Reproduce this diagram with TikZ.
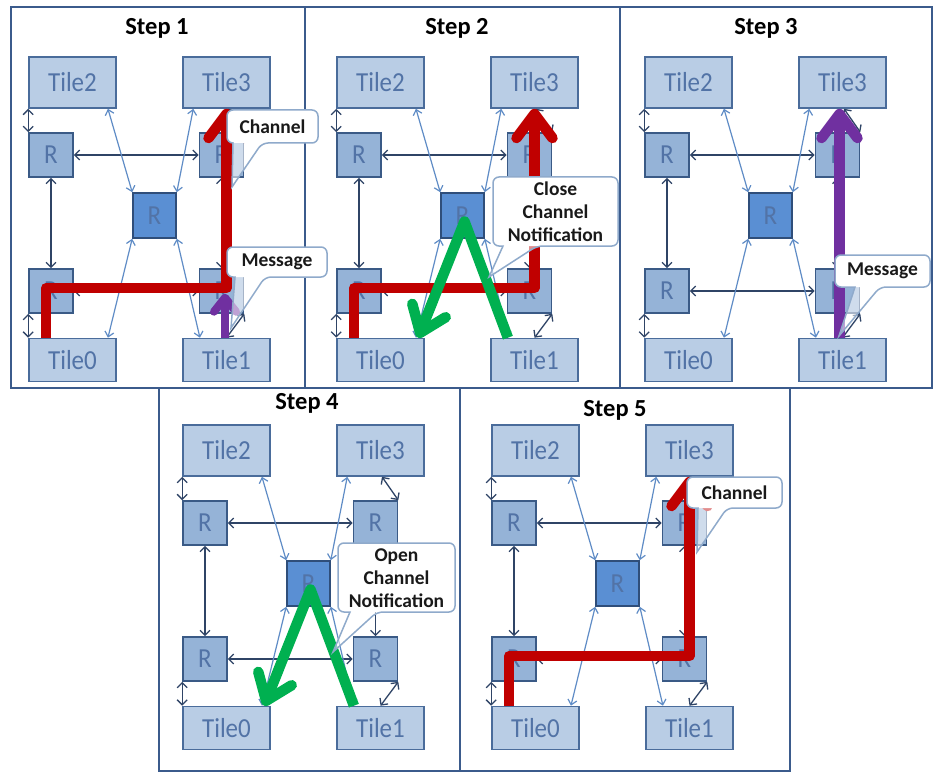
\documentclass[tikz,border=0pt]{standalone}
\usepackage{fontspec}
\setmainfont{Carlito}
\usepackage{graphicx}
\usetikzlibrary{arrows.meta,calc}
\definecolor{tilefill}{HTML}{B9CDE5}
\definecolor{tileedge}{HTML}{4A6C9B}
\definecolor{rfill}{HTML}{95B3D7}
\definecolor{redge}{HTML}{3A5A86}
\definecolor{rcfill}{HTML}{5A8FD3}
\definecolor{rcedge}{HTML}{2F4E7A}
\definecolor{labtxt}{HTML}{5273A6}
\definecolor{framec}{HTML}{3B5B8C}
\definecolor{darkcon}{HTML}{2F4466}
\definecolor{lightcon}{HTML}{5F8CC6}
\definecolor{chred}{HTML}{C00000}
\definecolor{chgreen}{HTML}{00B050}
\definecolor{chpurple}{HTML}{7030A0}
\definecolor{calloutedge}{HTML}{8FAACB}

\newcommand{\vstretch}[1]{\scalebox{1}[1.1]{#1}}

\tikzset{
  tilebox/.style={draw=tileedge, fill=tilefill, line width=1.6pt, minimum width=87pt, inner sep=0pt, text=labtxt, font=\fontsize{25}{25}\selectfont},
  toptile/.style={tilebox, minimum height=51pt},
  bottile/.style={tilebox, minimum height=43pt},
  rbox/.style={draw=redge, fill=rfill, line width=1.6pt, minimum width=44pt, minimum height=44pt, inner sep=0pt, text=labtxt, font=\fontsize{25}{25}\selectfont},
  rcbox/.style={rbox, fill=rcfill, draw=rcedge, minimum width=43pt, minimum height=45pt},
  darklink/.style={draw=darkcon, line width=1.3pt, {Straight Barb[length=5pt,width=10pt]}-{Straight Barb[length=5pt,width=10pt]}},
  lightlink/.style={draw=lightcon, line width=1.2pt, {Straight Barb[length=5pt,width=9pt]}-{Straight Barb[length=5pt,width=9pt]}},
  steptitle/.style={font=\fontsize{24.5}{24.5}\selectfont\bfseries, text=black, inner sep=0pt},
  fatarrow/.style={line width=10.5pt, line join=round, -{Straight Barb[length=24pt,width=36pt,round]}},
  thinfat/.style={line width=8pt, line join=round, -{Straight Barb[length=14pt,width=22pt,round]}},
  calltext/.style={font=\fontsize{19.5}{23}\selectfont\bfseries, text=black!90, align=center, inner sep=0pt},
  callshape/.style={draw=calloutedge, line width=1.5pt},
  framel/.style={draw=framec, line width=2pt},
}

% one network panel: #1 prefix, #2 dx, #3 dy
\newcommand{\netpanel}[3]{%
\begin{scope}[shift={(#2,#3)}]
  \node[toptile] (#1t2) at (72.5,82.5) {\vstretch{Tile2}};
  \node[toptile] (#1t3) at (226.5,82.5) {\vstretch{Tile3}};
  \node[bottile] (#1t0) at (72.5,360) {\vstretch{Tile0}};
  \node[bottile] (#1t1) at (226.5,360) {\vstretch{Tile1}};
  \node[rbox] (#1rlt) at (51,155) {\vstretch{R}};
  \node[rbox] (#1rrt) at (221.5,155) {\vstretch{R}};
  \node[rbox] (#1rlb) at (51,291) {\vstretch{R}};
  \node[rbox] (#1rrb) at (221.5,291) {\vstretch{R}};
  \node[rcbox] (#1rc) at (154.5,215.5) {\vstretch{R}};
\end{scope}
\draw[darklink] (#1rlt.east) -- (#1rrt.west);
\draw[darklink] (#1rlb.east) -- (#1rrb.west);
\draw[darklink] (#1rlt.south) -- (#1rlb.north);
\draw[darklink] (#1rrt.south) -- (#1rrb.north);
\draw[darklink] (#1t2.south west) -- (#1rlt.north west);
\draw[darklink] (#1rlb.south west) -- (#1t0.north west);
\draw[darklink] ($(#1t3.south)+(1.5,0)$) -- (#1rrt.north east);
\draw[darklink] (#1rrb.south east) -- (#1t1.north);
\draw[lightlink] ($(#1t2.south)!0.8!(#1t2.south east)$) -- (#1rc.north west);
\draw[lightlink] ($(#1t3.south west)!0.25!(#1t3.south)$) -- (#1rc.north east);
\draw[lightlink] (#1rc.south west) -- ($(#1t0.north)!0.8!(#1t0.north east)$);
\draw[lightlink] (#1rc.south east) -- ($(#1t1.north west)!0.4!(#1t1.north)$);
}

% callout shape: #1 x1, #2 y1, #3 x2, #4 y2, #5 tail base left, #6 tail base right, #7 tip x, #8 tip y
\newcommand{\callbox}[8]{%
  \fill[white, fill opacity=0.55, rounded corners=6pt] (#1,#2) -- (#3,#2) -- (#3,#4) -- (#6,#4) [sharp corners] -- (#7,#8) -- (#5,#4) [rounded corners=6pt] -- (#1,#4) -- cycle;
  \fill[white, rounded corners=6pt] (#1,#2) rectangle (#3,#4);
  \draw[callshape, rounded corners=6pt] (#1,#2) -- (#3,#2) -- (#3,#4) -- (#6,#4) [sharp corners] -- (#7,#8) -- (#5,#4) [rounded corners=6pt] -- (#1,#4) -- cycle;
}

\begin{document}
\begin{tikzpicture}[x=1pt,y=-1pt]
\useasboundingbox (0,0) rectangle (935,773);
\fill[white] (0,0) rectangle (935,773);

% frames
\draw[framel] (11,7) rectangle (932,388);
\draw[framel] (305,7) -- (305,388);
\draw[framel] (620,7) -- (620,388);
\draw[framel] (159,388) -- (159,771) -- (790,771) -- (790,388);
\draw[framel] (460,388) -- (460,771);

% titles
\node[steptitle] (title1) at (157,28) {Step 1};
\node[steptitle] (title2) at (457,28) {Step 2};
\node[steptitle] (title3) at (766,28) {Step 3};
\node[steptitle] (title4) at (307,403) {Step 4};
\node[steptitle] (title5) at (615,410) {Step 5};

% panels
\netpanel{a}{0}{0}
\netpanel{b}{308}{0}
\netpanel{c}{616}{0}
\netpanel{d}{154}{368}
\netpanel{e}{463}{368}

% Step 1
\draw[fatarrow, chred] ($(at0.north west)+(18,0)$) |- ($(arrb.center)+(5,-3)$) -- (at3.south);
\draw[thinfat, chpurple] ($(at1.north)+(-1.5,0)$) -- ($(at1.north)+(-1.5,-44)$);
\callbox{227}{110}{318}{143}{233}{262}{232}{187}
\node[calltext] (a-chan) at (272.5,126.5) {Channel};
\callbox{227}{247}{327}{277}{235}{265}{231}{328}
\node[calltext] (a-msg) at (277,262) {Message};

% Step 2
\draw[fatarrow, chred] ($(bt0.north west)+(18,0)$) |- ($(brrb.center)+(5,-3)$) -- (bt3.south);
\draw[fatarrow, chgreen] ($(bt1.north west)!0.4!(bt1.north)$) -- ($(brc.center)+(2,6)$) -- ($(bt0.north)!0.85!(bt0.north east)$);
\callbox{493}{177}{618}{246}{503}{537}{489}{277}
\node[calltext] (b-note) at (555.5,211.5) {Close\\Channel\\Notification};

% Step 3
\draw[fatarrow, chpurple] ($(ct1.north)+(-3,0)$) -- ($(ct3.south)+(-3,0)$);
\callbox{835}{255}{930}{287}{855}{880}{839}{336}
\node[calltext] (c-msg) at (882.5,271) {Message};

% Step 4
\draw[fatarrow, chgreen] ($(dt1.north west)!0.4!(dt1.north)$) -- ($(drc.center)+(2,6)$) -- ($(dt0.north)!0.85!(dt0.north east)$);
\callbox{338}{543}{455}{612}{350}{377}{333}{652}
\node[calltext] (d-note) at (396.5,578) {Open\\Channel\\Notification};

% Step 5
\draw[fatarrow, chred] ($(et0.north west)+(18,0)$) |- ($(errb.center)+(5,-3)$) -- (et3.south);
\callbox{687}{477}{782}{508}{698}{727}{697}{552}
\node[calltext] (e-chan) at (734.5,492.5) {Channel};
\end{tikzpicture}
\end{document}
